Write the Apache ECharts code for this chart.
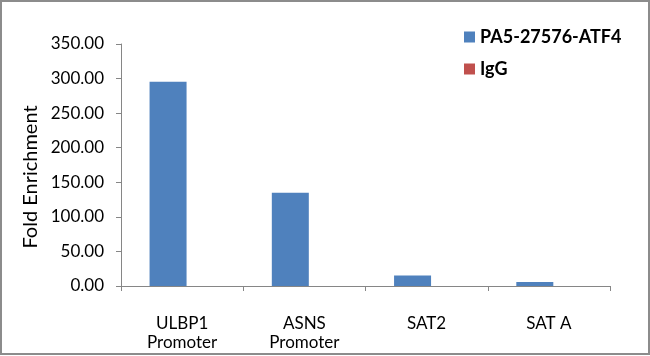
<!DOCTYPE html>
<html><head><meta charset="utf-8">
<script src="https://cdn.jsdelivr.net/npm/echarts@6/dist/echarts.min.js"></script>
<style>html,body{margin:0;padding:0;background:#fff}#c{width:650px;height:356px}</style>
</head><body><div id="c"></div>
<script>
var categories = ['ULBP1\nPromoter', 'ASNS\nPromoter', 'SAT2', 'SAT A'];
var atf4Values = [295.5, 135, 15.3, 5.8];
var iggValues = [0.15, 0.15, 0.1, 0.1];
var yTicks = [0, 50, 100, 150, 200, 250, 300, 350];
var seriesNames = ['PA5-27576-ATF4', 'IgG'];
var yAxisTitle = 'Fold Enrichment';

var font = 'Lato, "Open Sans", sans-serif';
var chart = echarts.init(document.getElementById('c'));
chart.setOption({
  animation: false,
  textStyle: {fontFamily: font},
  grid: {left: 121, right: 40, top: 44, bottom: 70},
  legend: {
    orient: 'vertical', left: 459, top: 23, itemGap: 14,
    itemWidth: 11, itemHeight: 11, icon: 'rect',
    textStyle: {fontSize: 18, fontWeight: 'bold', color: '#000', fontFamily: font},
    data: seriesNames
  },
  xAxis: {
    type: 'category', data: categories,
    axisLine: {lineStyle: {color: '#868686'}},
    axisTick: {show: true, length: 5, lineStyle: {color: '#868686'}},
    axisLabel: {fontSize: 17, color: '#000', lineHeight: 19, margin: 28, fontFamily: font}
  },
  yAxis: {
    type: 'value', min: yTicks[0], max: yTicks[yTicks.length - 1], interval: 50,
    axisLine: {show: true, lineStyle: {color: '#868686'}},
    axisTick: {show: true, length: 5, lineStyle: {color: '#868686'}},
    splitLine: {show: false},
    axisLabel: {fontSize: 17, color: '#000', margin: 17, fontFamily: font,
      formatter: function (v) { return v.toFixed(2); }}
  },
  series: [
    {name: seriesNames[0], type: 'bar', data: atf4Values, barWidth: 37, barGap: '-24%',
     itemStyle: {color: '#4F81BD'}},
    {name: seriesNames[1], type: 'bar', data: iggValues, barWidth: 37,
     itemStyle: {color: '#C0504D'}}
  ],
  graphic: [
    {type: 'rect', shape: {x: 1, y: 1, width: 648, height: 353},
     style: {fill: 'none', stroke: '#8c8c8c', lineWidth: 2}, silent: true},
    {type: 'text', x: 31, y: 177, rotation: Math.PI / 2,
     style: {text: yAxisTitle, fontSize: 20, fontFamily: font, fill: '#000',
       align: 'center', verticalAlign: 'middle'}}
  ]
});
</script></body></html>
